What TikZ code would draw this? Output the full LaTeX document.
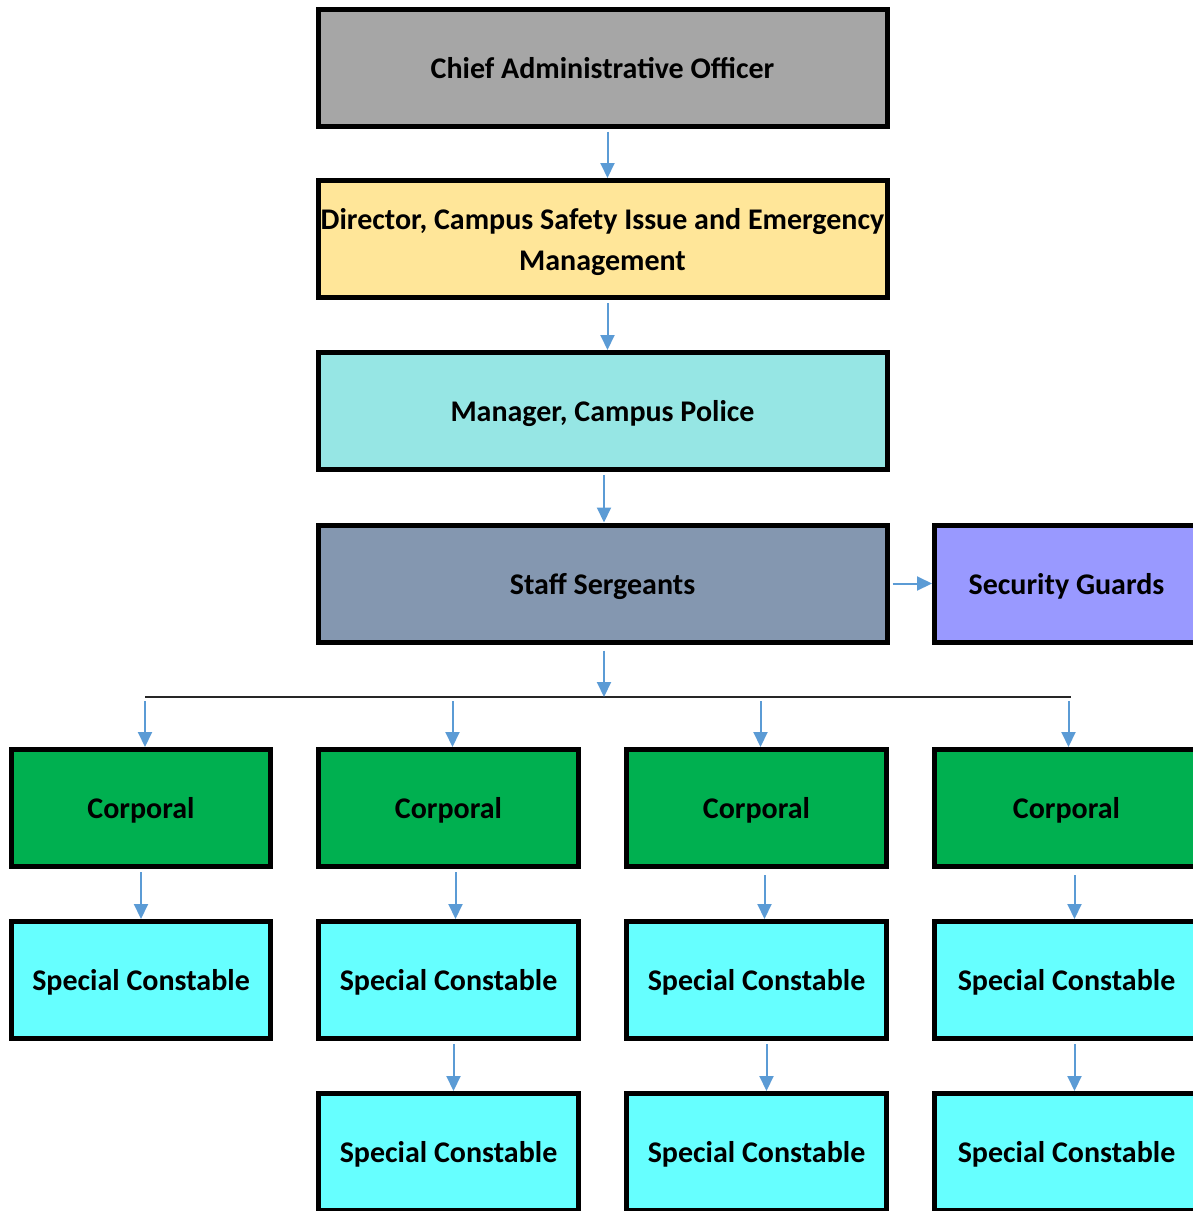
\documentclass[tikz,border=0pt]{standalone}
\usepackage{fontspec}
\setmainfont{Carlito}
\usetikzlibrary{arrows.meta}

\definecolor{chiefgray}{HTML}{A6A6A6}
\definecolor{directoryellow}{HTML}{FFE699}
\definecolor{managerteal}{HTML}{96E6E4}
\definecolor{sergeantblue}{HTML}{8497B0}
\definecolor{guardviolet}{HTML}{9999FF}
\definecolor{corporalgreen}{HTML}{00B050}
\definecolor{constablecyan}{HTML}{66FFFF}
\definecolor{arrowblue}{HTML}{5B9BD5}

\begin{document}
\begin{tikzpicture}[x=1pt,y=-1pt]
\useasboundingbox (0,0) rectangle (1193,1211);
						\begin{scope}[every node/.style={rectangle,draw=black,line width=5pt,inner sep=0pt,align=center,minimum height=117pt,text depth=0pt,font=\fontsize{30}{41}\selectfont\bfseries}]
							\node[fill=chiefgray,minimum width=569pt] (chief) at (602.5,67.5) {Chief Administrative Officer};
							\node[fill=directoryellow,minimum width=569pt] (director) at (602.5,239) {Director, Campus Safety Issue and Emergency\\Management};
							\node[fill=managerteal,minimum width=569pt] (manager) at (602.5,411) {Manager, Campus Police};
							\node[fill=sergeantblue,minimum width=569pt] (staff) at (602.5,583.5) {Staff Sergeants};
							\node[fill=guardviolet,minimum width=264pt] (guards) at (1066.5,583.5) {Security Guards};
							
							\node[fill=corporalgreen,minimum width=259pt] (cor1) at (141,808) {Corporal};
							\node[fill=corporalgreen,minimum width=260pt] (cor2) at (448.5,808) {Corporal};
							\node[fill=corporalgreen,minimum width=260pt] (cor3) at (756.5,808) {Corporal};
							\node[fill=corporalgreen,minimum width=264pt] (cor4) at (1066.5,808) {Corporal};
							
							\node[fill=constablecyan,minimum width=259pt] (con1a) at (141,980) {Special Constable};
							\node[fill=constablecyan,minimum width=260pt] (con2a) at (448.5,980) {Special Constable};
							\node[fill=constablecyan,minimum width=260pt] (con3a) at (756.5,980) {Special Constable};
							\node[fill=constablecyan,minimum width=264pt] (con4a) at (1066.5,980) {Special Constable};
							
							\node[fill=constablecyan,minimum width=260pt] (con2b) at (448.5,1152) {Special Constable};
							\node[fill=constablecyan,minimum width=260pt] (con3b) at (756.5,1152) {Special Constable};
							\node[fill=constablecyan,minimum width=264pt] (con4b) at (1066.5,1152) {Special Constable};
						\end{scope}
						
						\coordinate (bar) at (604,697);
						\draw [line width=2pt,black!85] ([xshift=4pt]bar -| cor1) -- ([xshift=4pt]bar -| cor4);
						
						\begin{scope}[every edge/.style={draw=arrowblue,line width=2pt,shorten <=3pt}]
							\path [-{Triangle[width=14pt,length=15pt]}] ([xshift=5pt]chief.south) edge ([xshift=5pt]director.north);
							\path [-{Triangle[width=14pt,length=15pt]}] ([xshift=5pt]director.south) edge ([xshift=5pt]director.south |- manager.north);
							\path [-{Triangle[width=14pt,length=15pt]}] (manager.south -| bar) edge (staff.north -| bar);
							\path [-{Triangle[width=14pt,length=15pt]}] (staff) edge (guards);
							\path [-{Triangle[width=14pt,length=15pt]}] (staff.south -| bar) edge [shorten <=6pt] (bar);
							\path [-{Triangle[width=14pt,length=15pt]}] ([xshift=4pt]bar -| cor1) edge [shorten <=4pt] ([xshift=4pt]cor1.north);
							\path [-{Triangle[width=14pt,length=15pt]}] ([xshift=4pt]bar -| cor2) edge [shorten <=4pt] ([xshift=4pt]cor2.north);
							\path [-{Triangle[width=14pt,length=15pt]}] ([xshift=4pt]bar -| cor3) edge [shorten <=4pt] ([xshift=4pt]cor3.north);
							\path [-{Triangle[width=14pt,length=15pt]}] ([xshift=2pt]bar -| cor4) edge [shorten <=4pt] ([xshift=2pt]cor4.north);
							\path [-{Triangle[width=14pt,length=15pt]}] (cor1) edge (con1a);
							\path [-{Triangle[width=14pt,length=15pt]}] ([xshift=7pt]cor2.south) edge ([xshift=7pt]con2a.north);
							\path [-{Triangle[width=14pt,length=15pt]}] ([xshift=8pt]cor3.south) edge [shorten <=6pt] ([xshift=8pt]con3a.north);
							\path [-{Triangle[width=14pt,length=15pt]}] ([xshift=8pt]cor4.south) edge [shorten <=6pt] ([xshift=8pt]con4a.north);
							\path [-{Triangle[width=14pt,length=15pt]}] ([xshift=5pt]con2a.south) edge ([xshift=5pt]con2b.north);
							\path [-{Triangle[width=14pt,length=15pt]}] ([xshift=10pt]con3a.south) edge ([xshift=10pt]con3b.north);
							\path [-{Triangle[width=14pt,length=15pt]}] ([xshift=8pt]con4a.south) edge ([xshift=8pt]con4b.north);
						\end{scope}
					\end{tikzpicture}
\end{document}
